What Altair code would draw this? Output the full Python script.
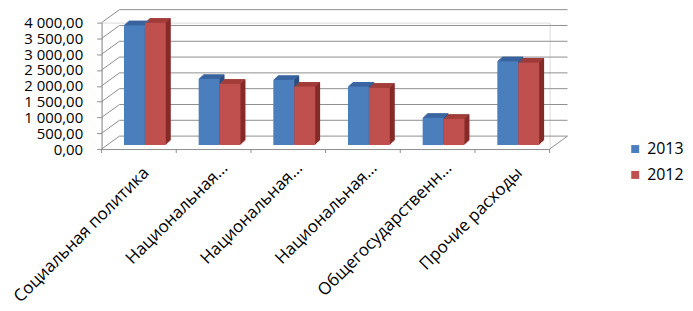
import json
import altair as alt
import pandas as pd

categories = ["Социальная политика", "Национальная…", "Национальная…",
              "Национальная…", "Общегосударственн…", "Прочие расходы"]
series_names = ["2013", "2012"]
values_2013 = [3790, 2090, 2060, 1850, 860, 2650]
values_2012 = [3870, 1940, 1850, 1815, 830, 2615]
y_ticks = [0, 500, 1000, 1500, 2000, 2500, 3000, 3500, 4000]

front_colors = {"2013": "#4a7ebd", "2012": "#c0504d"}
top_colors = {"2013": "#3d6aa8", "2012": "#a6403d"}
side_colors = {"2013": "#2b4f80", "2012": "#862a28"}

rows = []
for i, c in enumerate(categories):
    for s, vals in (("2013", values_2013), ("2012", values_2012)):
        rows.append({"idx": i, "cat": c, "series": s, "value": vals[i],
                     "top": top_colors[s], "side": side_colors[s]})
bars = pd.DataFrame(rows)
ticks_df = pd.DataFrame({"v": y_ticks})
cat_ticks = pd.DataFrame({"t": list(range(len(categories) + 1))})

N = len(categories)
FONT = "Open Sans"
GRID = "#8e8e8e"
truncated = [i for i, c in enumerate(categories) if c.endswith("…")]
trunc_test = f"indexof({json.dumps(truncated)}, floor(datum.value)) >= 0"

xscale = alt.Scale(domain=[0, N], nice=False, zero=False)
yscale = alt.Scale(domain=[0, 4000], nice=False)
label_expr = json.dumps(categories, ensure_ascii=False) + "[floor(datum.value)]"
xaxis = alt.Axis(values=[i + 0.5 for i in range(N)], labelExpr=label_expr, ticks=False,
                 grid=False, domainColor=GRID, labelAngle=-45, labelAlign="right",
                 labelBaseline="middle",
                 labelPadding={"condition": {"test": trunc_test, "value": 16}, "value": 21},
                 labelOffset={"condition": {"test": trunc_test, "value": 11}, "value": 7},
                 labelFont=FONT, labelFontSize=17, labelColor="#000", title=None,
                 labelOverlap=False, labelBound=False, labelFlush=False, labelLimit=500)
yaxis = alt.Axis(values=y_ticks, grid=False, domainColor=GRID, tickColor=GRID,
                 tickSize=5, labelPadding=14, labelFont=FONT, labelFontSize=15,
                 labelColor="#000", title=None, labelOverlap=False, labelBound=False,
                 labelFlush=False, labelLimit=500,
                 labelExpr="replace(replace(format(datum.value, ',.2f'), ',', ' '), '.', ',')")


def X(field=None, datum=None):
    if field is not None:
        return alt.X(field, type="quantitative", scale=xscale, axis=xaxis)
    return alt.X(datum=datum, type="quantitative", scale=xscale, axis=xaxis)


def Y(field=None, datum=None):
    if field is not None:
        return alt.Y(field, type="quantitative", scale=yscale, axis=yaxis)
    return alt.Y(datum=datum, type="quantitative", scale=yscale, axis=yaxis)


base = alt.Chart(bars).transform_calculate(
    x0="datum.idx + 0.5 + (datum.series == '2013' ? -0.28 : 0)",
    x1="datum.idx + 0.5 + (datum.series == '2013' ? 0 : 0.28)",
)

BX, BY = 6, -4
layers = []

# back wall grid lines
layers.append(alt.Chart(ticks_df).mark_rule(color=GRID, strokeWidth=1, xOffset=18,
                                              x2Offset=18, yOffset=-13).encode(
    x=X(datum=0), x2=alt.X2(datum=N), y=Y("v")))
# side wall lines
layers.append(alt.Chart(ticks_df).mark_rule(color=GRID, strokeWidth=1, x2Offset=18,
                                              y2Offset=-13).encode(
    x=X(datum=0), x2=alt.X2(datum=0), y=Y("v"), y2=alt.Y2("v")))
# floor right edge
layers.append(alt.Chart(cat_ticks).transform_filter(f"datum.t == {N}").mark_rule(
    color=GRID, strokeWidth=1, x2Offset=18, y2Offset=-13).encode(
    x=X("t"), x2=alt.X2("t"), y=Y(datum=0), y2=alt.Y2(datum=0)))
# category tick marks
layers.append(alt.Chart(cat_ticks).mark_rule(color=GRID, strokeWidth=1, y2Offset=4).encode(
    x=X("t"), y=Y(datum=0), y2=alt.Y2(datum=0)))

# bar side extrusion
for k in range(1, 6):
    dy = BY - 0.9 * k
    layers.append(base.mark_rect(xOffset=BX + k, x2Offset=BX + k, yOffset=dy,
                                 y2Offset=dy).encode(
        x=X("x0"), x2=alt.X2("x1"), y=Y("value"), y2=alt.Y2(datum=0),
        color=alt.Color("side:N", scale=None)))
# bar top faces
for k in range(0, 5):
    layers.append(base.mark_rect(xOffset=BX + k + 0.5, x2Offset=BX + k + 0.5,
                                 yOffset=BY - 0.9 * (k + 1), y2Offset=BY - 0.9 * k).encode(
        x=X("x0"), x2=alt.X2("x1"), y=Y("value"), y2=alt.Y2("value"),
        color=alt.Color("top:N", scale=None)))
# bar front faces
layers.append(base.mark_rect(xOffset=BX, x2Offset=BX, yOffset=BY, y2Offset=BY).encode(
    x=X("x0"), x2=alt.X2("x1"), y=Y("value"), y2=alt.Y2(datum=0),
    color=alt.Color("series:N",
                    scale=alt.Scale(domain=series_names,
                                    range=[front_colors[s] for s in series_names]),
                    legend=alt.Legend(title=None, orient="none", legendX=528,
                                      legendY=119, symbolType="square", symbolSize=64,
                                      symbolStrokeWidth=0, labelFont=FONT,
                                      labelFontSize=16, labelColor="#000",
                                      rowPadding=10, labelOffset=4))))

chart = alt.layer(*layers).properties(
    width=450, height=127, autosize="none",
    padding={"left": 94, "top": 14, "right": 136, "bottom": 160},
).configure_view(stroke=None).configure(background="#ffffff")

chart.save("out.html", embed_options={"renderer": "svg", "actions": False})
